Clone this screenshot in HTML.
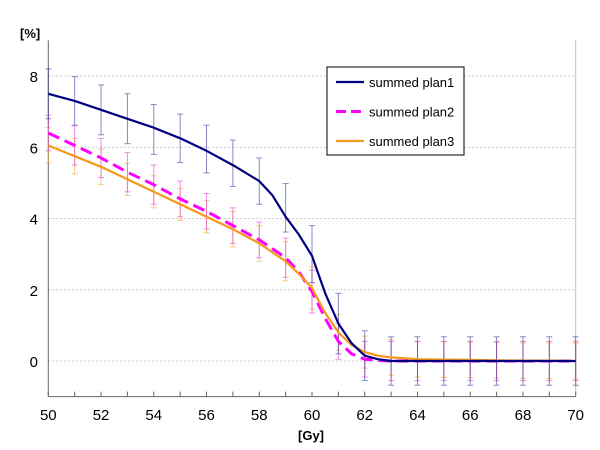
<!DOCTYPE html>
<html><head><meta charset="utf-8"><style>
body{margin:0;background:#fff;}
svg{display:block;font-family:"Liberation Sans",Arial,sans-serif;}
</style></head><body>
<svg id="chart" width="600" height="450" viewBox="0 0 600 450"></svg>
<script>
const xTicks=[50,52,54,56,58,60,62,64,66,68,70];
const yTicks=[0,2,4,6,8];
const xs1=[50,51,52,53,54,55,56,57,58,58.5,59,59.5,60,60.5,61,61.5,62,62.5,63,64,65,66,67,68,69,70];
const plan1=[7.5,7.3,7.05,6.8,6.55,6.25,5.9,5.5,5.05,4.65,4.05,3.55,2.95,1.9,1.05,0.5,0.15,0.05,0.0,0,0,0,0,0,0,0];
const xs2=[50,51,52,53,54,55,56,57,58,59,59.5,60,60.5,61,61.5,62,62.5,63,64,65,66,67,68,69,70];
const plan2=[6.4,6.05,5.7,5.3,4.95,4.55,4.2,3.8,3.4,2.9,2.5,1.95,1.2,0.55,0.2,0.05,0.02,0.0,0,0,0,0,0,0,0];
const xs3=[50,51,52,53,54,55,56,57,58,59,59.5,60,60.5,61,61.5,62,62.5,63,64,65,66,67,68,69,70];
const plan3=[6.05,5.75,5.45,5.1,4.75,4.4,4.05,3.7,3.3,2.8,2.45,2.05,1.35,0.8,0.45,0.25,0.15,0.1,0.05,0.04,0.03,0.02,0.01,0.01,0.0];
const errX=[50,51,52,53,54,55,56,57,58,59,60,61,62,63,64,65,66,67,68,69,70];
const err1Mean=[7.5,7.3,7.05,6.8,6.5,6.25,5.95,5.55,5.05,4.3,3.0,1.05,0.15,0,0,0,0,0,0,0,0];
const err1=[0.7,0.68,0.7,0.7,0.7,0.68,0.67,0.65,0.65,0.68,0.8,0.85,0.7,0.68,0.68,0.68,0.68,0.68,0.68,0.68,0.68];
const err2Mean=[6.4,6.05,5.7,5.3,4.95,4.55,4.2,3.8,3.4,2.9,1.95,0.55,0.05,0,0,0,0,0,0,0,0];
const err2=[0.5,0.55,0.55,0.55,0.55,0.5,0.5,0.5,0.5,0.55,0.6,0.5,0.5,0.55,0.55,0.55,0.55,0.55,0.55,0.55,0.55];
const err3Mean=[6.05,5.75,5.45,5.1,4.75,4.4,4.05,3.7,3.3,2.8,2.05,0.8,0.25,0.1,0.05,0.04,0.03,0.02,0.01,0.01,0];
const err3=[0.5,0.5,0.5,0.45,0.45,0.45,0.45,0.5,0.5,0.55,0.6,0.5,0.45,0.5,0.5,0.5,0.5,0.5,0.5,0.5,0.5];

const NS="http://www.w3.org/2000/svg";
const svg=document.getElementById('chart');
const X0=48.3,X1=575.7,Y8=76,Y0=361;
const sx=v=>X0+(v-50)*(X1-X0)/20;
const sy=v=>Y0-v*(Y0-Y8)/8;
function mk(tag,attrs,parent){const e=document.createElementNS(NS,tag);for(const k in attrs)e.setAttribute(k,attrs[k]);(parent||svg).appendChild(e);return e;}

// gridlines
yTicks.forEach(t=>{
  const g=mk('line',{x1:X0,x2:X1,y1:sy(t),y2:sy(t),stroke:'#c8c8c8','stroke-dasharray':'2,2','stroke-width':1});
  
  
  const l=mk('text',{x:38,y:sy(t)+6,'text-anchor':'end','font-size':15,fill:'#000'});
  l.textContent=t;
  
  
});
// right border
const rb=mk('line',{x1:X1,x2:X1,y1:sy(9),y2:sy(-1),stroke:'#c0c0c0','stroke-width':1});


// axes
const ya=mk('line',{x1:X0,x2:X0,y1:sy(9),y2:sy(-1),stroke:'#666','stroke-width':1});


const xa=mk('line',{x1:X0,x2:X1,y1:sy(-1),y2:sy(-1),stroke:'#666','stroke-width':1});


for(let v=50;v<=70;v++){
  const tk=mk('line',{x1:sx(v),x2:sx(v),y1:sy(-1),y2:sy(-1)-5,stroke:'#666'});
  
  
}
xTicks.forEach(t=>{
  const l=mk('text',{x:sx(t),y:420,'text-anchor':'middle','font-size':15,fill:'#000'});
  l.textContent=t;
  
  
});
const yt=mk('text',{x:20,y:38,'font-size':13,'font-weight':'bold'});yt.textContent='[%]';


const xt=mk('text',{x:311,y:440,'text-anchor':'middle','font-size':13,'font-weight':'bold'});xt.textContent='[Gy]';



// error bars
function errs(means,e,color,name){
  const g=mk('g',{stroke:color,'stroke-width':1,opacity:0.6});
  
  
  errX.forEach((x,i)=>{
    const cx=sx(x),a=sy(means[i]+e[i]),b=sy(means[i]-e[i]);
    mk('line',{x1:cx,x2:cx,y1:a,y2:b},g);
    mk('line',{x1:cx-3,x2:cx+3,y1:a,y2:a},g);
    mk('line',{x1:cx-3,x2:cx+3,y1:b,y2:b},g);
  });
}
errs(err3Mean,err3,'#f5a623','error-bars-plan3');
errs(err2Mean,err2,'#e040e0','error-bars-plan2');
errs(err1Mean,err1,'#3a3a9a','error-bars-plan1');

function line(xs,ys,color,dash,name){
  const d=xs.map((x,i)=>(i?'L':'M')+sx(x).toFixed(1)+','+sy(ys[i]).toFixed(1)).join('');
  const p=mk('path',{d:d,fill:'none',stroke:color,'stroke-width':dash?3:2.2,'stroke-dasharray':dash||'none','stroke-linejoin':'round'});
  
  
}
line(xs2,plan2,'#ff00ff','12,6','line-plan2');
line(xs3,plan3,'#f39a1a',null,'line-plan3');
line(xs1,plan1,'#000080',null,'line-plan1');

// legend
const lg=mk('g',{});


mk('rect',{x:327,y:67,width:137,height:88,fill:'#fff',stroke:'#000','stroke-width':1},lg);
const ent=[['summed plan1','#000080',null],['summed plan2','#ff00ff','10,5'],['summed plan3','#f39a1a',null]];
ent.forEach((e,i)=>{
  const y=82+i*29.5;
  const g=mk('g',{},lg);
  
  
  mk('line',{x1:336,x2:364,y1:y,y2:y,stroke:e[1],'stroke-width':e[2]?3:2.2,'stroke-dasharray':e[2]||'none'},g);
  const t=mk('text',{x:369,y:y+5,'font-size':13},g);t.textContent=e[0];
});
</script>
</body></html>
